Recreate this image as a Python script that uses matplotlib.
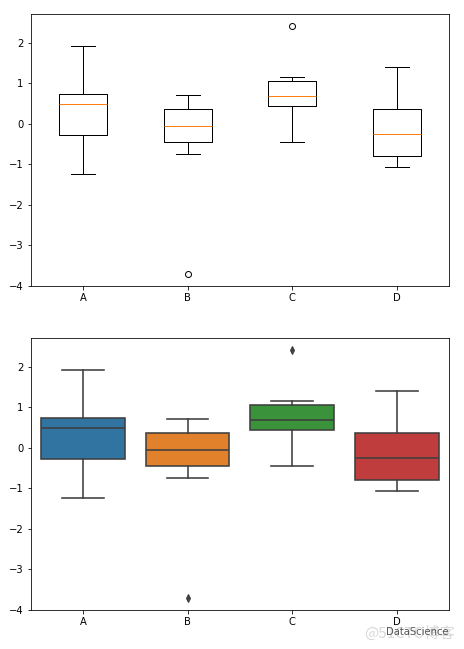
import matplotlib.pyplot as plt

# box statistics (same data in both panels)
labels = ["A", "B", "C", "D"]
whislo = [-1.23, -0.74, -0.46, -1.08]
q1 = [-0.28, -0.46, 0.43, -0.80]
med = [0.485, -0.066, 0.68, -0.25]
q3 = [0.73, 0.37, 1.05, 0.37]
whishi = [1.906, 0.707, 1.14, 1.39]
fliers = [[], [-3.70], [2.40], []]

sns_colors = ["#3274a1", "#e1812c", "#3a923a", "#c03d3e"]
gray = "#3f3f3f"

stats = []
for i, lab in enumerate(labels):
    stats.append({
        "label": lab, "whislo": whislo[i], "q1": q1[i], "med": med[i],
        "q3": q3[i], "whishi": whishi[i], "fliers": fliers[i],
    })

fig = plt.figure(figsize=(464 / 72, 649 / 72), dpi=72)

# top: plain matplotlib boxplot
ax1 = fig.add_axes([0.066, 0.5593, 0.902, 0.4191])
ax1.bxp(stats, positions=[1, 2, 3, 4], widths=0.46)
ax1.set_xticks([1, 2, 3, 4])
ax1.set_xticklabels(labels)

# bottom: seaborn-style boxplot
ax2 = fig.add_axes([0.066, 0.0601, 0.902, 0.4191])
bp = ax2.bxp(
    stats, positions=[0, 1, 2, 3], widths=0.8, patch_artist=True,
    boxprops=dict(edgecolor=gray, linewidth=1.6),
    whiskerprops=dict(color=gray, linewidth=1.6),
    capprops=dict(color=gray, linewidth=1.6),
    medianprops=dict(color=gray, linewidth=1.6),
    flierprops=dict(marker="d", markerfacecolor=gray, markeredgecolor=gray,
                    markersize=5),
)
for patch, c in zip(bp["boxes"], sns_colors):
    patch.set_facecolor(c)
for cap in bp["caps"]:
    x = cap.get_xdata()
    mid = (x[0] + x[1]) / 2
    cap.set_xdata([mid - 0.2, mid + 0.2])
ax2.set_xlim(-0.5, 3.5)
ax2.set_xticks([0, 1, 2, 3])
ax2.set_xticklabels(labels)

for ax in (ax1, ax2):
    ax.tick_params(labelsize=10)

# watermark
fig.text(0.98, 0.012, "@51CTO博客", color="#d8d8d8", fontsize=15,
         ha="right", va="bottom", family=["Noto Sans CJK SC", "DejaVu Sans"])
fig.text(0.967, 0.018, "DataScience", color="#555555", fontsize=10,
         ha="right", va="bottom")

fig.savefig("out.png", dpi=72)
